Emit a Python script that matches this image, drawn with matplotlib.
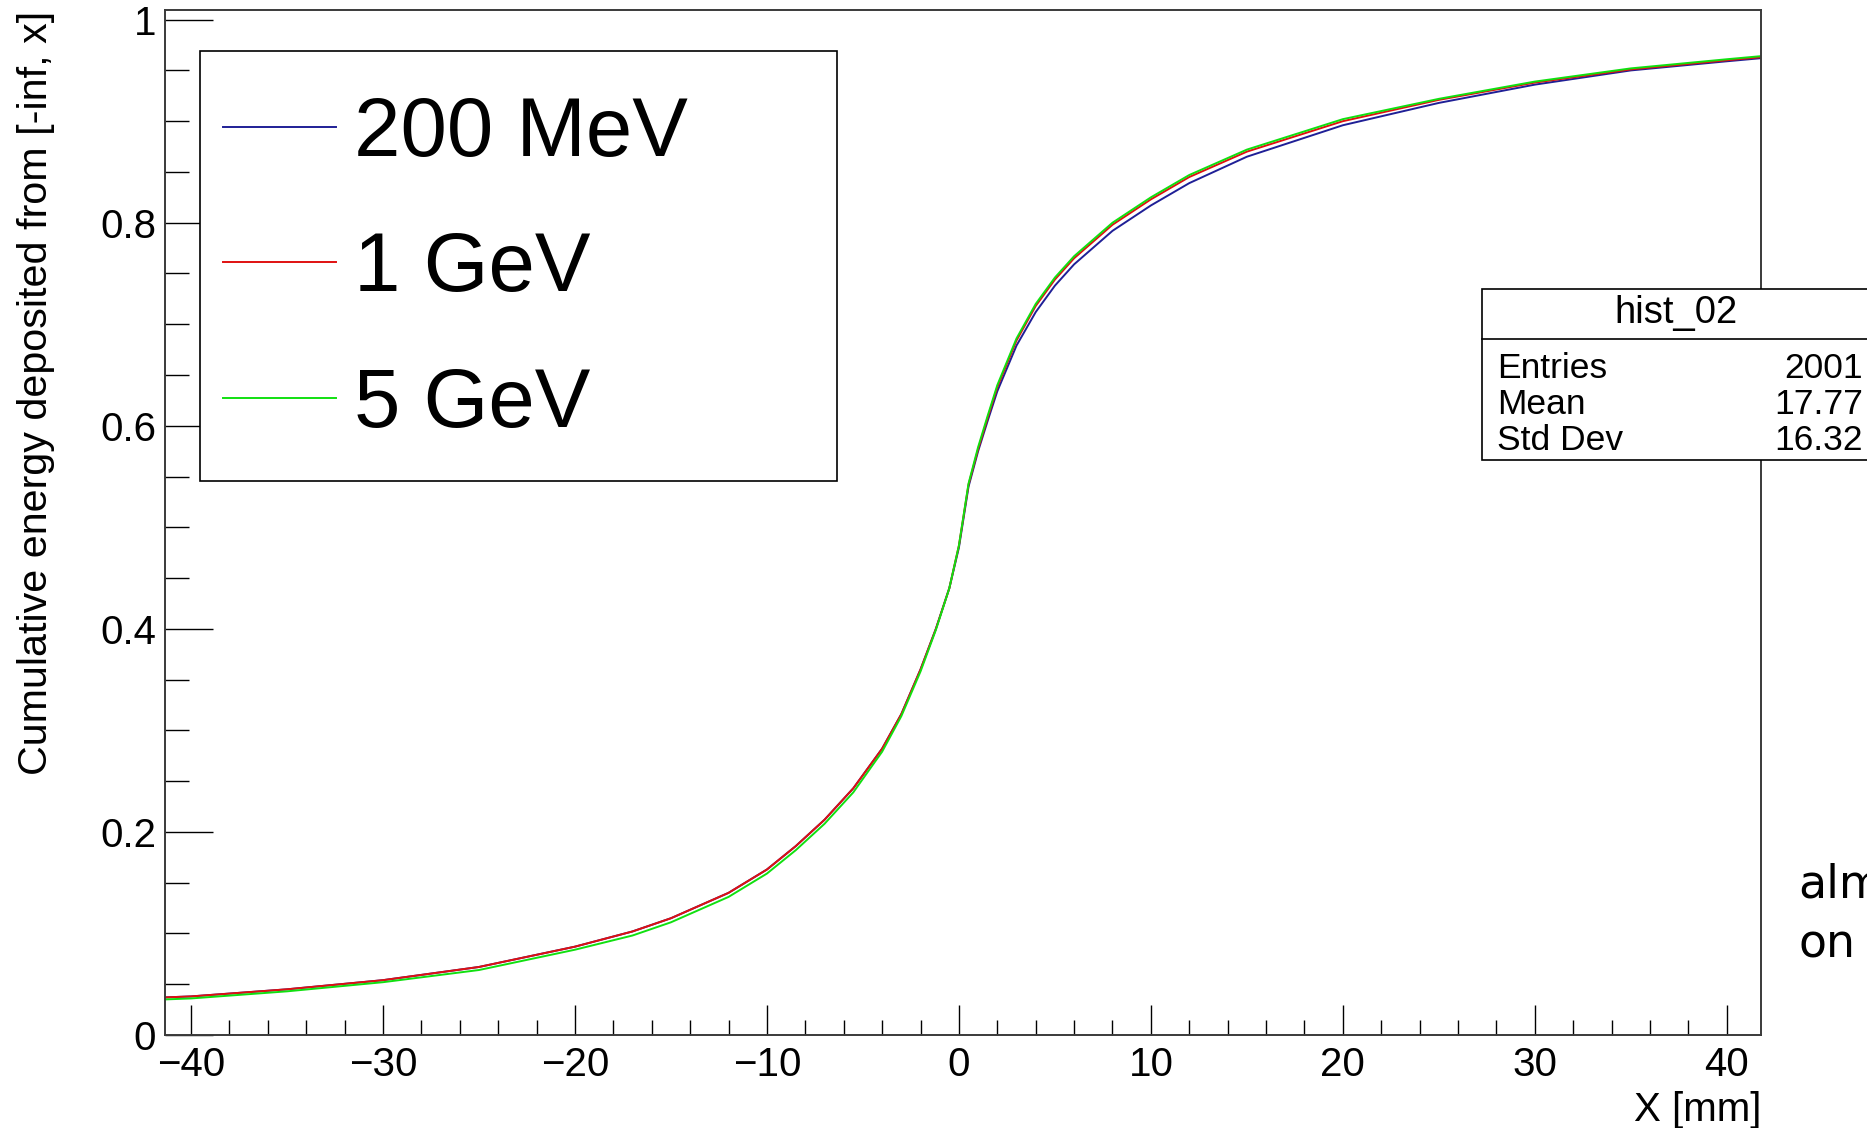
import matplotlib
matplotlib.use("Agg")
import matplotlib.pyplot as plt
from matplotlib.patches import Rectangle
from matplotlib.lines import Line2D
from matplotlib.ticker import MultipleLocator

# ---------------- data ----------------
x_mm = [-41.4, -40, -35, -30, -25, -20, -17, -15, -12, -10, -8.5, -7, -5.5, -4, -3, -2,
        -1.2, -0.5, 0, 0.5, 1, 1.5, 2, 3, 4, 5, 6, 8, 10, 12, 15, 20, 25, 30, 35, 40, 41.75]

cum_200MeV = [0.037, 0.038, 0.045, 0.054, 0.067, 0.087, 0.102, 0.115, 0.140, 0.163, 0.186,
              0.212, 0.243, 0.282, 0.316, 0.360, 0.400, 0.440, 0.480, 0.540, 0.575, 0.605,
              0.634, 0.679, 0.712, 0.738, 0.759, 0.792, 0.817, 0.839, 0.865, 0.896, 0.918,
              0.936, 0.950, 0.959, 0.962]
cum_1GeV = [0.037, 0.038, 0.045, 0.054, 0.067, 0.087, 0.102, 0.115, 0.140, 0.163, 0.186,
            0.212, 0.243, 0.282, 0.316, 0.360, 0.400, 0.440, 0.482, 0.542, 0.577, 0.608,
            0.638, 0.684, 0.718, 0.744, 0.765, 0.798, 0.823, 0.845, 0.870, 0.900, 0.921,
            0.938, 0.951, 0.960, 0.963]
cum_5GeV = [0.035, 0.036, 0.043, 0.052, 0.064, 0.084, 0.098, 0.111, 0.136, 0.159, 0.182,
            0.208, 0.239, 0.279, 0.314, 0.358, 0.399, 0.440, 0.482, 0.543, 0.579, 0.610,
            0.640, 0.686, 0.720, 0.746, 0.767, 0.800, 0.825, 0.847, 0.872, 0.902, 0.922,
            0.939, 0.952, 0.961, 0.964]

series_labels = ["200 MeV", "1 GeV", "5 GeV"]
series_colors = ["#1f1f96", "#e01010", "#10e010"]

x_label = "X [mm]"
y_label = "Cumulative energy deposited from [-inf, x]"
x_range = (-41.38, 41.78)
y_range = (0.0, 1.0095)

stats_title = "hist_02"
stats_names = ["Entries", "Mean", "Std Dev"]
stats_values = ["2001", "17.77", "16.32"]

side_note = ["alm", "on"]

# ---------------- figure ----------------
W, H = 1867, 1128
plt.rcParams["font.family"] = ["Liberation Sans", "DejaVu Sans"]
fig = plt.figure(figsize=(W / 100, H / 100), dpi=100)

def fx(px):
    return px / W

def fy(py):
    return 1 - py / H

ax_l, ax_r, ax_t, ax_b = 164.5, 1761.0, 10.0, 1035.0
ax = fig.add_axes([fx(ax_l), fy(ax_b), fx(ax_r - ax_l), (ax_b - ax_t) / H])

for vals, lab, col in zip([cum_200MeV, cum_1GeV, cum_5GeV], series_labels, series_colors):
    ax.plot(x_mm, vals, color=col, lw=1.4, label=lab)

ax.set_xlim(*x_range)
ax.set_ylim(*y_range)

ax.xaxis.set_major_locator(MultipleLocator(10))
ax.xaxis.set_minor_locator(MultipleLocator(2))
ax.yaxis.set_major_locator(MultipleLocator(0.2))
ax.yaxis.set_minor_locator(MultipleLocator(0.05))

ax.set_yticks([0, 0.2, 0.4, 0.6, 0.8, 1.0])
ax.set_yticklabels(["0", "0.2", "0.4", "0.6", "0.8", "1"])

ax.tick_params(axis="x", which="major", direction="in", length=21.6, width=1.0,
               labelsize=29, pad=8, top=False, color="black")
ax.tick_params(axis="x", which="minor", direction="in", length=10.8, width=1.0,
               top=False, color="black")
ax.tick_params(axis="y", which="major", direction="in", length=34.6, width=1.0,
               labelsize=29, pad=6, right=False, color="black")
ax.tick_params(axis="y", which="minor", direction="in", length=17.3, width=1.0,
               right=False, color="black")

for sp in ax.spines.values():
    sp.set_color("#3a3a3a")
    sp.set_linewidth(1.4)

# axis titles (ROOT style: right-aligned to axis end)
fig.text(fx(ax_r), fy(1110), x_label, ha="right", va="center", fontsize=29)
fig.text(fx(36), fy(11), y_label, rotation=90, ha="center", va="top", fontsize=29.7)

# legend (ROOT TLegend-like box): frame drawn separately, entries placed by legend
leg_x0, leg_y0, leg_x1, leg_y1 = 200, 51, 837, 481
fig.patches.append(Rectangle((fx(leg_x0), fy(leg_y1)), fx(leg_x1 - leg_x0), (leg_y1 - leg_y0) / H,
                             transform=fig.transFigure, facecolor="white",
                             edgecolor="black", linewidth=1.2, zorder=1.5))
leg = ax.legend(loc="upper left", bbox_to_anchor=(fx(223), fy(95)),
                bbox_transform=fig.transFigure,
                fontsize=60, frameon=False,
                borderaxespad=0, borderpad=0.0, labelspacing=0.69,
                handlelength=1.35, handletextpad=0.22)
leg.set_zorder(2)
leg.remove()
fig.add_artist(leg)
for h in leg.legend_handles:
    h.set_linewidth(1.4)

# stats box
sb_x0, sb_y0, sb_x1, sb_y1, sb_sep = 1482, 289, 1880, 460, 339
fig.patches.append(Rectangle((fx(sb_x0), fy(sb_y1)), fx(sb_x1 - sb_x0), (sb_y1 - sb_y0) / H,
                             transform=fig.transFigure, facecolor="white",
                             edgecolor="black", linewidth=1.2, zorder=5))
fig.lines.append(Line2D([fx(sb_x0), fx(sb_x1)], [fy(sb_sep), fy(sb_sep)],
                        transform=fig.transFigure, color="black", lw=1.2, zorder=6))
fig.text(fx(1676), fy(313), stats_title, ha="center", va="center",
         fontsize=27.5, zorder=7)
row_y = [369, 405, 440]
for name, val, yy in zip(stats_names, stats_values, row_y):
    fig.text(fx(1497), fy(yy), name, ha="left", va="center", fontsize=25.5, zorder=7)
    fig.text(fx(1863), fy(yy), val, ha="right", va="center", fontsize=25.5, zorder=7)

# clipped side note
fig.text(fx(1798), fy(898), side_note[0], ha="left", va="baseline", fontsize=33,
         family="DejaVu Sans")
fig.text(fx(1798), fy(957), side_note[1], ha="left", va="baseline", fontsize=33,
         family="DejaVu Sans")

fig.savefig("out.png", dpi=100, facecolor="white")
